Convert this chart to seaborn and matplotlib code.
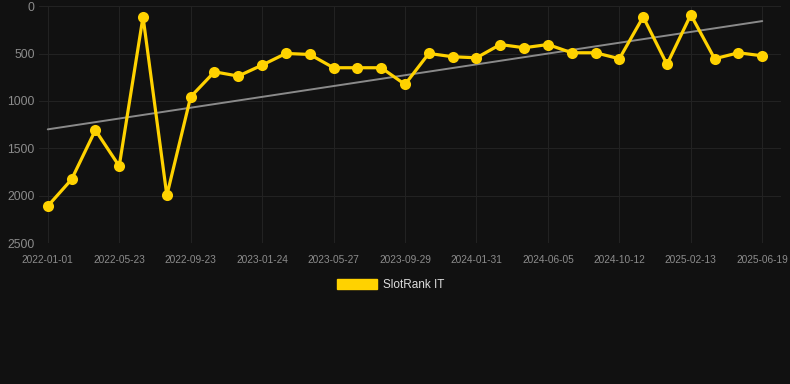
import numpy as np
import pandas as pd
import seaborn as sns
import matplotlib.pyplot as plt
from matplotlib.patches import Patch

# dates of each rank reading (only every third one is labelled on the axis)
dates = ['2022-01-01', '2022-02-17', '2022-04-05', '2022-05-23', '2022-07-03',
         '2022-08-13', '2022-09-23', '2022-11-03', '2022-12-14', '2023-01-24',
         '2023-03-06', '2023-04-16', '2023-05-27', '2023-07-07', '2023-08-18',
         '2023-09-29', '2023-11-09', '2023-12-20', '2024-01-31', '2024-03-15',
         '2024-04-25', '2024-06-05', '2024-07-18', '2024-08-30', '2024-10-12',
         '2024-11-23', '2025-01-03', '2025-02-13', '2025-03-27', '2025-05-08',
         '2025-06-19']
rank = [2110, 1828, 1308, 1688, 113, 1997, 957, 693, 738, 622,
        499, 510, 650, 650, 650, 826, 499, 534, 545, 405,
        439, 405, 492, 492, 555, 113, 615, 91, 555, 492, 524]
y_ticks = [0, 500, 1000, 1500, 2000, 2500]
series_name = 'SlotRank IT'

df = pd.DataFrame({'date': dates, 'rank': rank})
df['pos'] = np.arange(len(df))

sns.set_theme(style='dark')
plt.rcParams['font.family'] = ['Liberation Sans', 'DejaVu Sans']

bg = '#111111'
gold = '#FFD200'
grid = '#222222'

fig = plt.figure(figsize=(7.9, 3.84), dpi=100, facecolor=bg)
ax = fig.add_axes([0.049, 0.367, 0.94, 0.617])
ax.set_facecolor(bg)

# trend line (least squares fit over the points)
k, b = np.polyfit(df['pos'], df['rank'], 1)
ax.plot([df['pos'].iloc[0], df['pos'].iloc[-1]],
        [b, k * df['pos'].iloc[-1] + b], color='#8a8a8a', lw=1.4, zorder=2)

sns.lineplot(data=df, x='pos', y='rank', ax=ax, color=gold, lw=2.3,
             marker='o', markersize=8, markeredgewidth=0, zorder=3)

ax.set_ylim(2500, 0)
ax.set_xlim(-0.38, 30.8)
ax.set_yticks(y_ticks)
ax.set_yticklabels([str(v) for v in y_ticks], fontsize=8.7, color='#8c8c8c')
ax.set_xticks(df['pos'][::3])
ax.set_xticklabels(df['date'][::3], fontsize=7.3, color='#8c8c8c')
ax.tick_params(axis='x', length=4, color=grid, pad=4.5)
ax.tick_params(axis='y', length=0, pad=3)
ax.grid(True, color=grid, lw=0.8)
for s in ax.spines.values():
    s.set_visible(False)
ax.set_xlabel('')
ax.set_ylabel('')

fig.legend(handles=[Patch(facecolor=gold, edgecolor=gold, label=series_name)],
           loc='center', bbox_to_anchor=(0.494, 0.258), frameon=False,
           fontsize=8.5, labelcolor='#dddddd', handlelength=3.4,
           handleheight=1.0, handletextpad=0.5)

plt.savefig('out.png', dpi=100, facecolor=bg)
